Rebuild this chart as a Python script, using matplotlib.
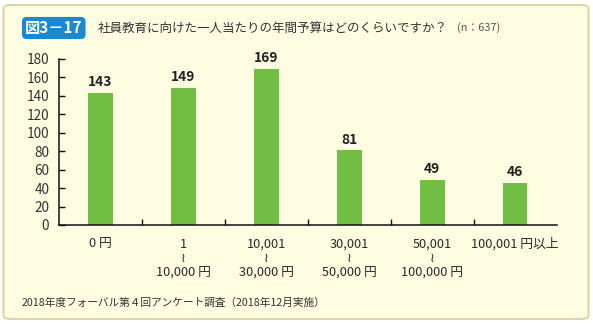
import matplotlib
matplotlib.use("Agg")
import matplotlib.pyplot as plt
from matplotlib.patches import FancyBboxPatch
from matplotlib.ticker import FixedLocator

plt.rcParams['font.family'] = ['Noto Sans CJK JP', 'DejaVu Sans']

categories = ["0 円", "1\n≀\n10,000 円", "10,001\n≀\n30,000 円",
              "30,001\n≀\n50,000 円", "50,001\n≀\n100,000 円", "100,001 円以上"]
values = [143, 149, 169, 81, 49, 46]
yticks = [0, 20, 40, 60, 80, 100, 120, 140, 160, 180]
badge = "図3－17"
title = "社員教育に向けた一人当たりの年間予算はどのくらいですか？"
note = "(n：637)"
footer = "2018年度フォーバル第４回アンケート調査（2018年12月実施）"

W, H = 593, 324
fig = plt.figure(figsize=(W/100, H/100), dpi=100)
fig.patch.set_facecolor("white")

box = FancyBboxPatch((3.5/W, 5/H), 585/W, 314/H,
                     boxstyle="round,pad=0,rounding_size=0.012",
                     transform=fig.transFigure, facecolor="#FEFCE1",
                     edgecolor="#DAD7A6", linewidth=1.5, zorder=-10)
fig.patches.append(box)

ax = fig.add_axes([59/W, (H-225)/H, (556.5-59)/W, 166/H])
ax.set_zorder(5)
ax.set_facecolor("none")
x = list(range(len(values)))
ax.bar(x, values, width=0.3, color="#72BE45", zorder=2)
for xi, v in zip(x, values):
    ax.text(xi, v + 4, str(v), ha="center", va="bottom", fontsize=10,
            fontweight="semibold", color="#222222")

ax.set_xlim(-0.5, len(values) - 0.5)
ax.set_ylim(0, 180)
ax.set_yticks(yticks)
ax.set_yticklabels([str(t) for t in yticks])
ax.set_xticks(x)
ax.set_xticklabels(categories, linespacing=1.15)
ax.xaxis.set_minor_locator(FixedLocator([i + 0.5 for i in range(len(values) - 1)]))
ax.tick_params(axis="x", which="major", length=0, pad=9, labelsize=9.2, colors="#2a2a2a")
ax.tick_params(axis="x", which="minor", length=4.5, direction="in", width=1, color="#111111")
ax.tick_params(axis="y", length=4.5, direction="in", width=1, pad=7, labelsize=9.8,
               colors="#333333")
ax.tick_params(axis="y", color="#111111")
for s in ["top", "right"]:
    ax.spines[s].set_visible(False)
for s in ["left", "bottom"]:
    ax.spines[s].set_linewidth(1.1)
    ax.spines[s].set_color("#111111")

fig.text(25/W, 1 - 28/H, badge, fontsize=11, fontweight="bold", color="white",
         va="center", ha="left",
         bbox=dict(boxstyle="round,pad=0.2,rounding_size=0.3", facecolor="#1A89CF",
                   edgecolor="none"))
fig.text(98/W, 1 - 28/H, title, fontsize=9.0, color="#333333", va="center", ha="left")
fig.text(457/W, 1 - 28/H, note, fontsize=7.8, color="#555555", va="center", ha="left")
fig.text(22/W, 1 - 303/H, footer, fontsize=7.7, color="#333333", va="center", ha="left")

fig.savefig("out.png", dpi=100)
